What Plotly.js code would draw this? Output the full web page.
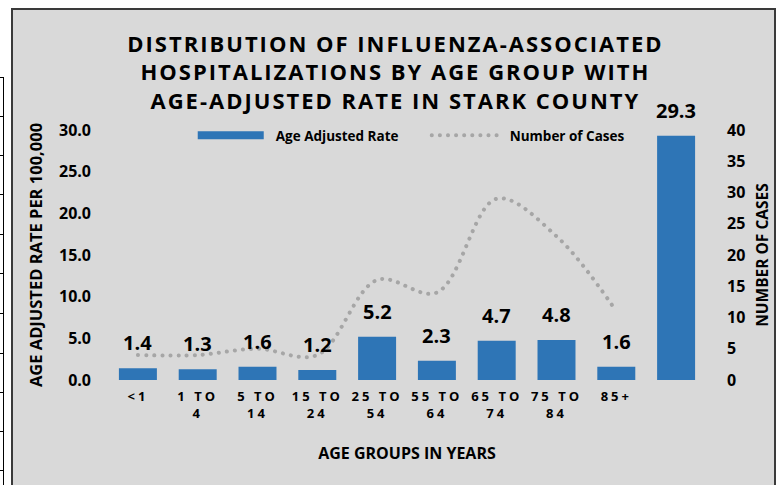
<!DOCTYPE html>
<html>
<head>
<meta charset="utf-8">
<script src="https://cdn.plot.ly/plotly-3.0.1.min.js"></script>
<style>
  html, body { margin: 0; padding: 0; background: #ffffff; }
  #wrap { position: relative; width: 783px; height: 485px; overflow: hidden; }
  #frame { position: absolute; left: 11px; top: 8px; width: 765px; height: 490px;
           background: #d9d9d9; border: 2px solid #3a3a3a; box-sizing: border-box; }
  #cells { position: absolute; left: 0; top: 77px; width: 3px; height: 420px;
           border-right: 1.5px solid #000; }
  .hl { position: absolute; left: 0; width: 4px; height: 0; border-top: 1.5px solid #000; }
  #chart { position: absolute; left: 0; top: 0; width: 783px; height: 485px; }
  .gtitle { letter-spacing: 2.0px; }
  .xtick text { letter-spacing: 3px; }
  .scatterlayer path.js-line, .legend .traces:last-child path.js-line { stroke-linecap: round; }
</style>
</head>
<body>
<div id="wrap">
  <div id="cells"></div>
  <div id="frame"></div>
  <div id="chart"></div>
</div>
<script>
// ---- data ----
const categories = ['<1', '1-4', '5-14', '15-24', '25-54', '55-64', '65-74', '75-84', '85+', 'All'];
const tickLabels = ['<1', '1 TO<br>4', '5 TO<br>14', '15 TO<br>24', '25 TO<br>54', '55 TO<br>64', '65 TO<br>74', '75 TO<br>84', '85+', ''];
const ageAdjustedRate = [1.4, 1.3, 1.6, 1.2, 5.2, 2.3, 4.7, 4.8, 1.6, 29.3];
const caseCategories = ['<1', '1-4', '5-14', '15-24', '25-54', '55-64', '65-74', '75-84', '85+'];
const numberOfCases = [4, 4, 5, 4, 16, 14, 29, 23, 11];
const cellLineYs = [77, 116, 155, 194, 234, 273, 313, 353, 392, 431, 470];

// decorative spreadsheet cell lines at the far left
const cells = document.getElementById('cells');
cellLineYs.forEach(function (y) {
  const d = document.createElement('div');
  d.className = 'hl';
  d.style.top = (y - 77) + 'px';
  cells.appendChild(d);
});

const FONT = '"Open Sans", "Noto Sans", sans-serif';
const BAR_COLOR = '#2e75b6';
const NB = '\u00a0\u00a0';

const traces = [
  {
    type: 'bar',
    name: 'Age Adjusted Rate',
    x: categories,
    y: ageAdjustedRate,
    marker: { color: BAR_COLOR },
    yaxis: 'y',
    showlegend: false,
    hoverinfo: 'skip'
  },
  {
    // legend entry for the bars (wide flat swatch as in the original)
    type: 'scatter',
    mode: 'lines',
    name: NB + 'Age Adjusted Rate',
    x: [null], y: [null],
    line: { color: BAR_COLOR, width: 8 },
    hoverinfo: 'skip'
  },
  {
    type: 'scatter',
    mode: 'lines',
    name: NB + 'Number of Cases',
    x: caseCategories,
    y: numberOfCases,
    yaxis: 'y2',
    line: { color: '#a6a6a6', width: 4, dash: '0.1px,8px', shape: 'spline', smoothing: 1 },
    hoverinfo: 'skip'
  }
];

const annotations = categories.map(function (c, i) {
  return {
    x: c, y: ageAdjustedRate[i], xref: 'x', yref: 'y',
    text: ageAdjustedRate[i].toFixed(1),
    showarrow: false, yanchor: 'bottom', yshift: 10,
    font: { family: FONT, size: 20, color: '#000000', weight: 'bold' }
  };
});

const layout = {
  width: 783, height: 485,
  paper_bgcolor: 'rgba(0,0,0,0)',
  plot_bgcolor: 'rgba(0,0,0,0)',
  margin: { l: 108, r: 77, t: 130, b: 105 },
  font: { family: FONT, color: '#000000' },
  title: {
    text: 'DISTRIBUTION OF INFLUENZA-ASSOCIATED<br>HOSPITALIZATIONS BY AGE GROUP WITH<br>AGE-ADJUSTED RATE IN STARK COUNTY',
    font: { family: FONT, size: 22, color: '#000000', weight: 'bold' },
    x: 0.505, xanchor: 'center', y: 0.893, yanchor: 'top', yref: 'container'
  },
  bargap: 0.365,
  showlegend: true,
  legend: {
    orientation: 'h', x: 0.1417, xanchor: 'left', y: 1.04, yanchor: 'top',
    bgcolor: 'rgba(0,0,0,0)',
    font: { family: FONT, size: 13.5, color: '#000000', weight: 'bold' },
    itemwidth: 66, entrywidth: 153, traceorder: 'normal'
  },
  xaxis: {
    type: 'category',
    tickmode: 'array', tickvals: categories, ticktext: tickLabels,
    showgrid: false, zeroline: false, showline: false, ticks: '',
    ticklabelstandoff: 7,
    tickfont: { family: FONT, size: 13, color: '#000000', weight: 'bold' },
    tickangle: 0,
    title: { text: 'AGE GROUPS IN YEARS', font: { family: FONT, size: 16, color: '#000000', weight: 'bold' }, standoff: 26 },
    fixedrange: true
  },
  yaxis: {
    range: [0, 30], dtick: 5, tickformat: '.1f',
    showgrid: false, zeroline: false, showline: false, ticks: '',
    ticklabelstandoff: 16,
    tickfont: { family: FONT, size: 16, color: '#000000', weight: 'bold' },
    title: { text: 'AGE ADJUSTED RATE PER 100,000', font: { family: FONT, size: 16.5, color: '#000000', weight: 'bold' }, standoff: 12 },
    fixedrange: true
  },
  yaxis2: {
    overlaying: 'y', side: 'right',
    range: [0, 40], dtick: 5,
    showgrid: false, zeroline: false, showline: false, ticks: '',
    ticklabelstandoff: 20,
    tickfont: { family: FONT, size: 16, color: '#000000', weight: 'bold' },
    title: { text: 'NUMBER OF CASES', font: { family: FONT, size: 15.5, color: '#000000', weight: 'bold' }, standoff: 12 },
    fixedrange: true
  },
  annotations: annotations
};

Plotly.newPlot('chart', traces, layout, { displayModeBar: false, staticPlot: true });
</script>
</body>
</html>
